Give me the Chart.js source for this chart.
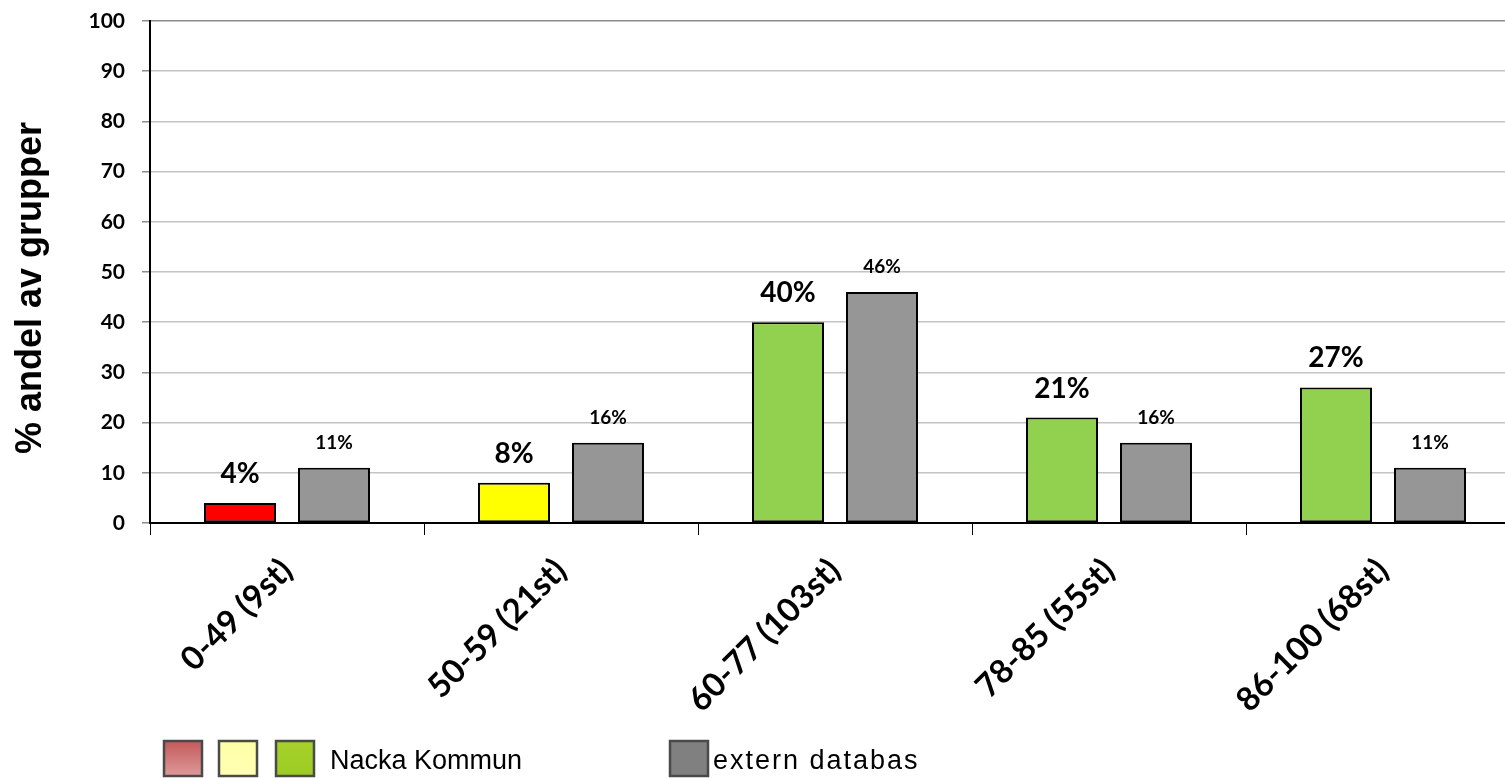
<!DOCTYPE html>
<html>
<head>
<meta charset="utf-8">
<script src="https://cdn.jsdelivr.net/npm/chart.js@4.4.1/dist/chart.umd.min.js"></script>
<style>
  html, body { margin: 0; padding: 0; background: #ffffff; overflow: hidden; }
  #wrap { width: 1525px; height: 778px; }
</style>
</head>
<body>
<div id="wrap"><canvas id="chart" width="1525" height="778"></canvas></div>
<script>
// Score bands with number of units in each band
const categories = ['0-49 (9st)', '50-59 (21st)', '60-77 (103st)', '78-85 (55st)', '86-100 (68st)'];
// Share of groups (%) per band
const nackaValues = [4, 8, 40, 21, 27];
const externValues = [11, 16, 46, 16, 11];
// Value axis ticks
const yTickValues = [0, 10, 20, 30, 40, 50, 60, 70, 80, 90, 100];
const seriesNames = ['Nacka Kommun', 'extern databas'];
const yAxisTitle = '% andel av grupper';

// Bar colours: red / yellow / green by band for Nacka, grey for the external database
const nackaColors = ['#ff0000', '#ffff00', '#92d050', '#92d050', '#92d050'];
const externColor = '#969696';

// Per-dataset value label styles
const labelStyles = [
  { font: 'bold 28px Lato', gap: 20 },
  { font: 'bold 19px Lato', gap: 19 }
];

// Value labels ("40%") above each bar
const valueLabels = {
  id: 'valueLabels',
  afterDatasetsDraw(chart) {
    const ctx = chart.ctx;
    chart.data.datasets.forEach((ds, di) => {
      const meta = chart.getDatasetMeta(di);
      const st = labelStyles[di];
      ctx.save();
      ctx.font = st.font;
      ctx.fillStyle = '#000000';
      ctx.textAlign = 'center';
      ctx.textBaseline = 'alphabetic';
      meta.data.forEach((bar, i) => {
        ctx.fillText(ds.data[i] + '%', bar.x, bar.y - st.gap);
      });
      ctx.restore();
    });
  }
};

// Vertical value-axis title, drawn in the left margin
const axisTitle = {
  id: 'axisTitle',
  afterDraw(chart) {
    const ctx = chart.ctx;
    ctx.save();
    ctx.translate(31, 288);
    ctx.rotate(-Math.PI / 2);
    ctx.font = 'bold 36px "Liberation Sans", Arial, sans-serif';
    ctx.fillStyle = '#000000';
    ctx.textAlign = 'center';
    ctx.textBaseline = 'middle';
    ctx.fillText(yAxisTitle, 0, 0);
    ctx.restore();
  }
};

// Legend along the bottom: three band swatches for Nacka, one grey swatch for the database
const bottomLegend = {
  id: 'bottomLegend',
  afterDraw(chart) {
    const ctx = chart.ctx;
    const y = 741, w = 38, h = 35;
    const swatch = (x, top, bottom) => {
      const g = ctx.createLinearGradient(0, y, 0, y + h);
      g.addColorStop(0, top);
      g.addColorStop(1, bottom);
      ctx.fillStyle = g;
      ctx.fillRect(x, y, w, h);
      ctx.lineWidth = 2.5;
      ctx.strokeStyle = '#4a4a4a';
      ctx.strokeRect(x, y, w, h);
    };
    ctx.save();
    swatch(164, '#c4595a', '#dd9a9a');
    swatch(219, '#ffffa6', '#ffffb4');
    swatch(276, '#a6d22a', '#9ccc24');
    swatch(670, '#808080', '#808080');
    ctx.fillStyle = '#000000';
    ctx.font = '27px "Liberation Sans", Arial, sans-serif';
    ctx.textAlign = 'left';
    ctx.textBaseline = 'alphabetic';
    ctx.fillText(chart.data.datasets[0].label, 330, 769);
    ctx.letterSpacing = '2px';
    ctx.fillText(chart.data.datasets[1].label, 713, 769);
    ctx.restore();
  }
};

new Chart(document.getElementById('chart'), {
  type: 'bar',
  data: {
    labels: categories,
    datasets: [
      {
        label: seriesNames[0],
        data: nackaValues,
        backgroundColor: nackaColors,
        borderColor: '#000000',
        borderWidth: 2,
        borderSkipped: false,
        categoryPercentage: 0.686,
        barPercentage: 0.766
      },
      {
        label: seriesNames[1],
        data: externValues,
        backgroundColor: externColor,
        borderColor: '#000000',
        borderWidth: 2,
        borderSkipped: false,
        categoryPercentage: 0.686,
        barPercentage: 0.766
      }
    ]
  },
  options: {
    responsive: false,
    animation: false,
    devicePixelRatio: 1,
    layout: { padding: { top: 21, right: 5, left: 0, bottom: 0 } },
    plugins: {
      legend: { display: false },
      tooltip: { enabled: false }
    },
    scales: {
      x: {
        offset: true,
        grid: {
          offset: true,
          drawOnChartArea: false,
          drawTicks: true,
          tickLength: 12,
          color: '#000000',
          lineWidth: 1
        },
        border: { display: true, color: '#000000', width: 2 },
        ticks: {
          minRotation: 45,
          maxRotation: 45,
          autoSkip: false,
          padding: 16,
          labelOffset: 0,
          color: '#000000',
          font: { family: 'Lato', weight: 'bold', size: 33 }
        },
        afterFit(scale) {
          scale.height = 255;
          scale.paddingLeft = 0;
          scale.paddingRight = 0;
        }
      },
      y: {
        min: 0,
        max: 100,
        afterBuildTicks(scale) { scale.ticks = yTickValues.map(v => ({ value: v })); },
        grid: {
          color: ctx => (ctx.tick && ctx.tick.value === 100) ? '#8c8c8c' : '#c4c4c4',
          lineWidth: 1.5,
          tickLength: 8,
          tickColor: '#8c8c8c'
        },
        border: { display: true, color: '#000000', width: 2 },
        ticks: {
          padding: 17,
          color: '#000000',
          font: { family: 'Lato', weight: 'bold', size: 21 }
        },
        afterFit(scale) {
          scale.width = 150;
          scale.paddingTop = 0;
          scale.paddingBottom = 0;
        }
      }
    }
  },
  plugins: [valueLabels, axisTitle, bottomLegend]
});
</script>
</body>
</html>
